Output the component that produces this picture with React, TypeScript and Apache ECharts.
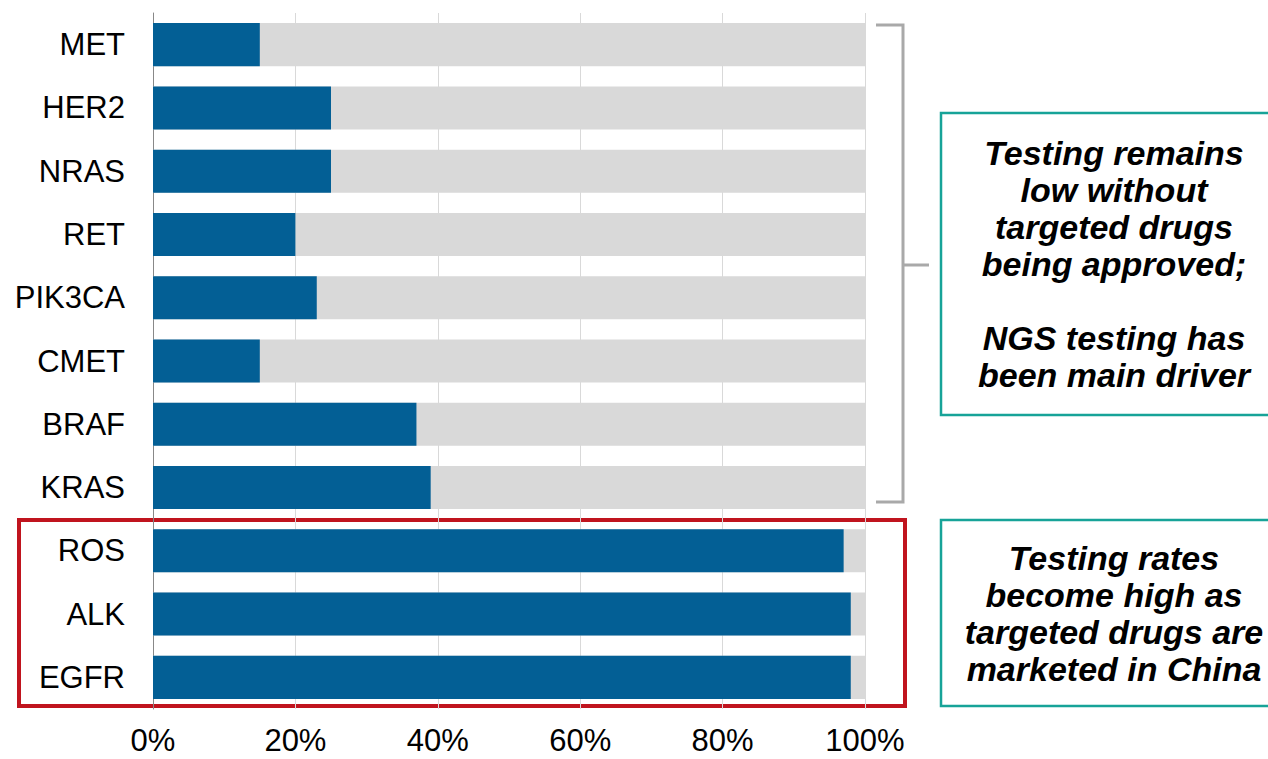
import React, { useEffect, useRef } from "react";
import * as echarts from "echarts";

const categories = ["MET", "HER2", "NRAS", "RET", "PIK3CA", "CMET", "BRAF", "KRAS", "ROS", "ALK", "EGFR"];
const testedShare = [15, 25, 25, 20, 23, 15, 37, 39, 97, 98, 98];
const totalShare = [100, 100, 100, 100, 100, 100, 100, 100, 100, 100, 100];
const xTicks = [0, 20, 40, 60, 80, 100];

const noteLow = "Testing remains\nlow without\ntargeted drugs\nbeing approved;\n\nNGS testing has\nbeen main driver";
const noteHigh = "Testing rates\nbecome high as\ntargeted drugs are\nmarketed in China";

const FONT = "'Liberation Sans', Arial, sans-serif";

export default function App() {
  const ref = useRef<HTMLDivElement>(null);
  useEffect(() => {
    if (!ref.current) return;
    const chart = echarts.init(ref.current, null, { renderer: "svg" });
    const bracketColor = "#a9a9a9";
    const teal = "#17a398";
    chart.setOption({
      animation: false,
      backgroundColor: "#ffffff",
      grid: { left: 153, right: 403, top: 13, bottom: 50, containLabel: false },
      xAxis: {
        type: "value",
        min: xTicks[0],
        max: xTicks[xTicks.length - 1],
        interval: 20,
        axisLine: { show: false },
        axisTick: { show: false },
        splitLine: { show: true, lineStyle: { color: "#d9d9d9", width: 1 } },
        axisLabel: {
          formatter: (v: number) => v + "%",
          fontSize: 31,
          color: "#000",
          fontFamily: FONT,
          margin: 16,
        },
      },
      yAxis: {
        type: "category",
        data: categories,
        inverse: true,
        axisLine: { show: true, lineStyle: { color: "#888888", width: 1 } },
        axisTick: { show: false },
        splitLine: { show: false },
        axisLabel: { fontSize: 31, color: "#000", fontFamily: FONT, margin: 28 },
      },
      series: [
        {
          type: "bar",
          data: totalShare,
          barWidth: "68%",
          barGap: "-100%",
          itemStyle: { color: "#d9d9d9" },
          silent: true,
          z: 1,
        },
        {
          type: "bar",
          data: testedShare,
          barWidth: "68%",
          barGap: "-100%",
          itemStyle: { color: "#035f95" },
          z: 2,
        },
      ],
      graphic: [
        {
          type: "polyline",
          shape: { points: [[876, 25], [903, 25], [903, 502], [876, 502]] },
          style: { stroke: bracketColor, lineWidth: 3, fill: null },
        },
        {
          type: "line",
          shape: { x1: 903, y1: 265, x2: 929, y2: 265 },
          style: { stroke: bracketColor, lineWidth: 3 },
        },
        {
          type: "rect",
          shape: { x: 19, y: 520, width: 886, height: 186 },
          style: { fill: null, stroke: "#c0141e", lineWidth: 4 },
        },
        {
          type: "rect",
          shape: { x: 941, y: 113, width: 360, height: 302 },
          style: { fill: "#fff", stroke: teal, lineWidth: 2.5 },
        },
        {
          type: "rect",
          shape: { x: 941, y: 520, width: 360, height: 186 },
          style: { fill: "#fff", stroke: teal, lineWidth: 2.5 },
        },
        {
          type: "text",
          x: 1114,
          y: 264,
          style: {
            text: noteLow,
            fontSize: 34,
            fontWeight: "bold",
            fontStyle: "italic",
            fontFamily: FONT,
            lineHeight: 37,
            fill: "#000",
            align: "center",
            verticalAlign: "middle",
          },
        },
        {
          type: "text",
          x: 1114,
          y: 613,
          style: {
            text: noteHigh,
            fontSize: 34,
            fontWeight: "bold",
            fontStyle: "italic",
            fontFamily: FONT,
            lineHeight: 37,
            fill: "#000",
            align: "center",
            verticalAlign: "middle",
          },
        },
      ],
    });
    return () => chart.dispose();
  }, []);
  return (
    <div
      ref={ref}
      style={{ position: "absolute", left: 0, top: 0, width: 1268, height: 759 }}
    />
  );
}
